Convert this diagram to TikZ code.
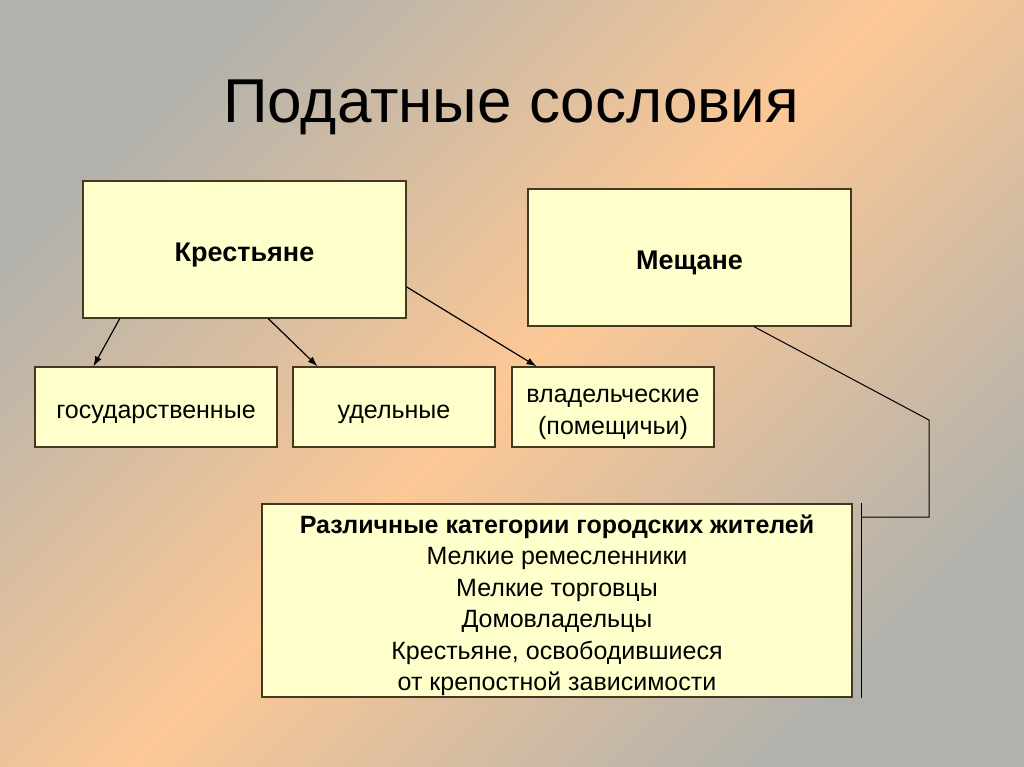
\documentclass[tikz,border=0pt]{standalone}
\usepackage{fontspec}
\usetikzlibrary{arrows.meta}
\setmainfont{Liberation Sans}
\definecolor{slidegrey}{RGB}{178,178,172}
\definecolor{slidepeach}{RGB}{252,200,150}
\definecolor{boxfill}{RGB}{255,255,204}
\definecolor{boxline}{RGB}{70,55,30}
\newcommand{\lineup}{\rule{0pt}{23pt}}
\tikzset{
  lift/.style={execute at begin node={\rule{0pt}{#1}}},
  box/.style={draw=boxline,fill=boxfill,line width=1.3pt,rectangle,inner sep=0pt,align=center,
    text depth=0pt,lift=23pt,font=\fontsize{25}{31.5}\selectfont},
  head/.style={box,lift=24pt,font=\fontsize{27}{31}\selectfont\bfseries},
  link/.style={line width=1.2pt,black},
  tip/.style={-{Latex[length=10pt,width=7pt]}},
}
\begin{document}
\begin{tikzpicture}[x=1pt,y=-1pt]
\shade[top color=slidegrey,bottom color=slidegrey,middle color=slidepeach,shading angle=45] (0,0) rectangle (1024,767);
\useasboundingbox (0,0) rectangle (1024,767);
\node[anchor=base,font=\fontsize{62}{70}\selectfont] (title) at (511,123) {Податные сословия};
\node[head,minimum width=323pt,minimum height=137pt] (krest) at (244.5,249.5) {Крестьяне};
\node[head,minimum width=323pt,minimum height=137pt] (meshch) at (689.5,257.5) {Мещане};
\node[box,minimum width=242pt,minimum height=80pt] (gos) at (156,407) {государственные};
\node[box,minimum width=202pt,minimum height=80pt] (udel) at (394,407) {удельные};
\node[box,minimum width=202pt,minimum height=80pt] (vlad) at (613,407) {\lineup владельческие\\(помещичьи)};
\node[box,minimum width=590pt,minimum height=193pt] (gorod) at (557,600.5) {\lineup\textbf{Различные категории городских жителей}\\Мелкие ремесленники\\Мелкие торговцы\\Домовладельцы\\Крестьяне, освободившиеся\\от крепостной зависимости};
\draw[link,tip] (krest.209.4) -- (gos.147.4);
\draw[link,tip] (krest.-71.1) -- (udel.152);
\draw[link,tip] (krest.-13.4) -- (vlad.152.9);
\coordinate (bend) at (929,420);
\coordinate (brk) at (861,517);
\draw[link,line width=1pt] (meshch.-47.2) -- (bend) |- (brk);
\draw[link,line width=1pt] ([xshift=9pt]gorod.north east) -- ([xshift=9pt]gorod.south east);
\end{tikzpicture}
\end{document}
